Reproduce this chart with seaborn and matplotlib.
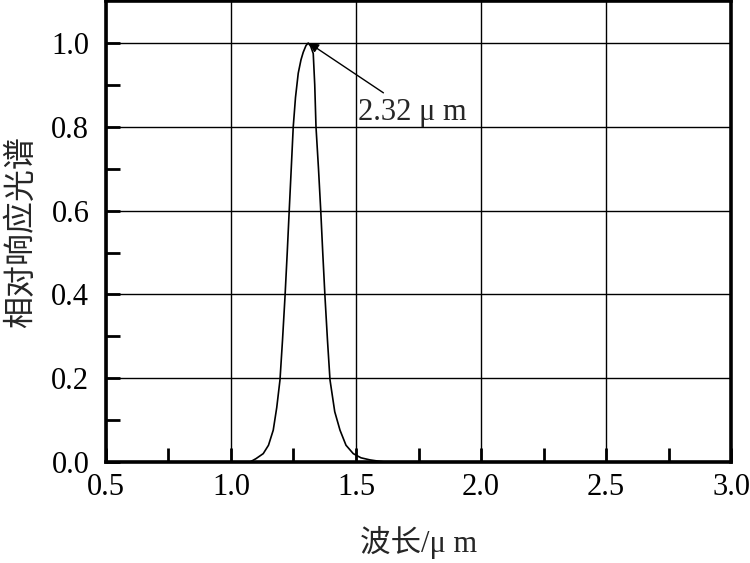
import numpy as np
import pandas as pd
import matplotlib
matplotlib.use("Agg")
import matplotlib.pyplot as plt
import matplotlib.ticker as ticker
import seaborn as sns

# values
wavelength = [1.076, 1.10, 1.129, 1.150, 1.169, 1.183, 1.196, 1.206, 1.216, 1.225, 1.233, 1.241,
              1.249, 1.258, 1.269, 1.280, 1.289, 1.300, 1.309, 1.319, 1.329, 1.335, 1.340,
              1.350, 1.359, 1.367, 1.376, 1.386, 1.396, 1.415, 1.436, 1.460, 1.489, 1.520,
              1.556, 1.590, 1.616]
response = [0.000, 0.008, 0.020, 0.040, 0.076, 0.130, 0.196, 0.290, 0.394, 0.500, 0.601, 0.700,
            0.800, 0.870, 0.928, 0.960, 0.978, 0.994, 1.000, 0.992, 0.975, 0.900, 0.800,
            0.700, 0.600, 0.500, 0.394, 0.290, 0.196, 0.120, 0.076, 0.040, 0.020, 0.010,
            0.005, 0.002, 0.000]
peak_label = "2.32 μ m"
x_label = "波长/μ m"
y_label = "相对响应光谱"


def main():
    sns.set_style("ticks")
    plt.rcParams["font.family"] = ["Liberation Serif", "Noto Sans CJK SC", "DejaVu Sans"]

    df = pd.DataFrame({"wl": wavelength, "resp": response})

    fig = plt.figure(figsize=(7.5, 5.63), dpi=100)
    ax = fig.add_axes([0.1413, 0.1794, 0.8334, 0.8186])
    sns.lineplot(data=df, x="wl", y="resp", color="black", linewidth=1.2, ax=ax)

    ax.set_xlim(0.5, 3.0)
    ax.set_ylim(0.0, 1.1)
    ax.xaxis.set_major_locator(ticker.MultipleLocator(0.5))
    ax.xaxis.set_minor_locator(ticker.MultipleLocator(0.25))
    ax.yaxis.set_major_locator(ticker.FixedLocator([0.0, 0.2, 0.4, 0.6, 0.8, 1.0]))
    ax.yaxis.set_minor_locator(ticker.FixedLocator([0.1, 0.3, 0.5, 0.7, 0.9]))
    ax.xaxis.set_major_formatter(ticker.FormatStrFormatter("%.1f"))
    ax.yaxis.set_major_formatter(ticker.FormatStrFormatter("%.1f"))

    ax.grid(True, which="major", color="black", linewidth=1.0)
    ax.set_axisbelow(True)
    for side in ["left", "bottom", "right", "top"]:
        ax.spines[side].set_visible(True)
        ax.spines[side].set_linewidth(2.6)
        ax.spines[side].set_color("black")

    ax.tick_params(which="both", direction="in", length=10, width=2, color="black",
                   top=False, right=False, labelsize=22, labelcolor="black")
    ax.tick_params(axis="x", pad=8)
    ax.tick_params(axis="y", pad=12)

    ax.set_xlabel(x_label, fontsize=22, labelpad=17)
    ax.set_ylabel(y_label, fontsize=23, labelpad=10)

    ax.annotate(peak_label, xy=(1.312, 1.0), xytext=(1.508, 0.835),
                fontsize=22, va="center", ha="left",
                arrowprops=dict(arrowstyle="-|>", color="black", lw=1.0,
                                shrinkA=2, shrinkB=0, mutation_scale=14))

    fig.savefig("out.png", dpi=100)


if __name__ == "__main__":
    main()
